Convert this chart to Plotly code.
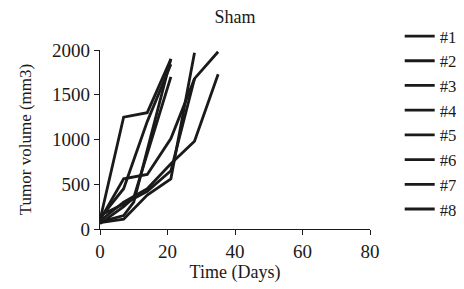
import plotly.graph_objects as go

names = ["#1", "#2", "#3", "#4", "#5", "#6", "#7", "#8"]
days = [
    [0, 7, 14, 21],
    [0, 7, 14, 21],
    [0, 7, 10, 21],
    [0, 7, 10, 21],
    [0, 7, 14, 21, 28, 35],
    [0, 7, 14, 21, 28, 35],
    [0, 7, 14, 21, 28],
    [0, 7, 14, 21, 28],
]
volumes = [
    [100, 1250, 1300, 1900],
    [120, 450, 1200, 1840],
    [80, 150, 300, 1900],
    [60, 250, 350, 1700],
    [100, 560, 610, 1010, 1680, 1980],
    [90, 300, 450, 730, 980, 1730],
    [70, 110, 380, 560, 1970],
    [150, 280, 420, 650, 1680],
]
x_ticks = [0, 20, 40, 60, 80]
y_ticks = [0, 500, 1000, 1500, 2000]

fam = "Liberation Serif, Times New Roman, serif"
ink = "#1a1a1a"

fig = go.Figure()
for n, d, v in zip(names, days, volumes):
    fig.add_trace(go.Scatter(x=d, y=v, mode="lines", name=n,
                             line=dict(color=ink, width=2.8)))

fig.update_layout(
    width=464, height=289,
    margin=dict(l=92, r=102, t=42, b=68, autoexpand=False),
    paper_bgcolor="white", plot_bgcolor="white",
    font=dict(family=fam, size=16, color=ink),
    title=dict(text="Sham", x=0.5, xref="paper", xanchor="center", y=0.969, yanchor="middle",
               font=dict(family=fam, size=18, color=ink)),
    showlegend=True,
    legend=dict(x=1.11, y=1.175, xanchor="left", yanchor="top",
                font=dict(family=fam, size=16.7, color=ink),
                tracegroupgap=0, itemwidth=30, bgcolor="rgba(0,0,0,0)",
                maxheight=280),
)
fig.update_xaxes(range=[0, 80], tickvals=x_ticks, showline=True, linecolor=ink,
                 linewidth=1.2, ticks="outside", ticklen=5, tickcolor=ink,
                 tickfont=dict(family=fam, size=19, color=ink), automargin=False,
                 showgrid=False, zeroline=False,
                 title=dict(text="Time (Days)", standoff=2, font=dict(family=fam, size=18, color=ink)))
fig.update_yaxes(range=[0, 2000], tickvals=y_ticks, showline=True, linecolor=ink,
                 linewidth=1.2, ticks="outside", ticklen=5, tickcolor=ink,
                 tickfont=dict(family=fam, size=19, color=ink), automargin=False,
                 showgrid=False, zeroline=False,
                 title=dict(text="Tumor volume (mm3)", standoff=16, font=dict(family=fam, size=17, color=ink)))

fig.write_html("out.html")
